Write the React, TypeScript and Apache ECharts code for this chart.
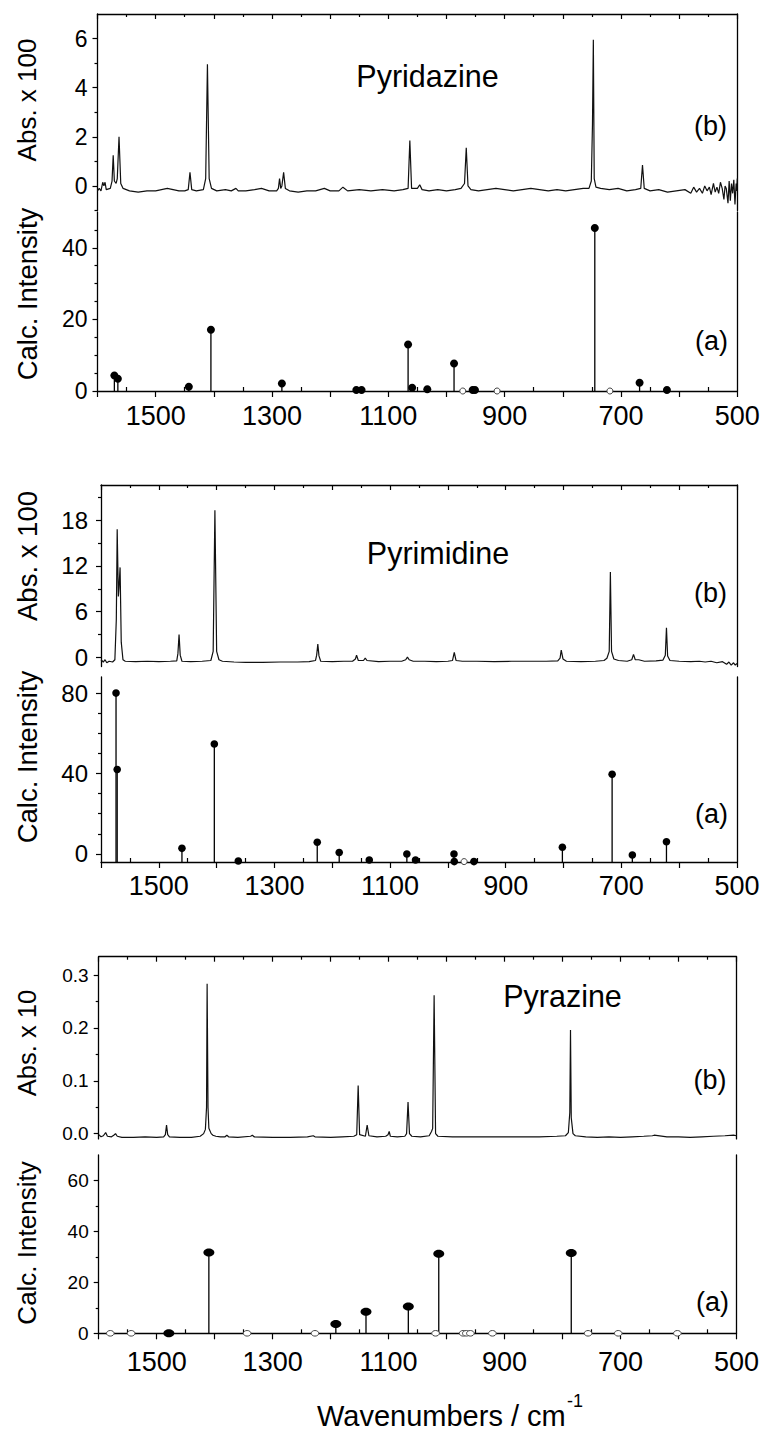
import React, { useEffect, useRef } from 'react';
import * as echarts from 'echarts';

// ---------------- DATA ----------------
const WN_MIN = 500;
const WN_MAX = 1600;
const X_LABELED = [1500, 1300, 1100, 900, 700, 500];

const MOLECULES = ['Pyridazine', 'Pyrimidine', 'Pyrazine'];
const ABS_TITLES = ['Abs. x 100', 'Abs. x 100', 'Abs. x 10'];
const CALC_TITLE = 'Calc. Intensity';

// Experimental spectra (b): [wavenumber, absorbance]
const pyridazineSpectrum: [number, number][] = [
  [1600, -0.2], [1597, -0.1], [1594, -0.2], [1591, 0.15], [1589, 0.0], [1587, 0.15], [1585, -0.15],
  [1578, -0.1], [1575, 0.2], [1573, 1.25], [1571, 0.2], [1568, 0.1], [1566, 0.3], [1563, 2.0], [1560, 0.1],
  [1556, -0.1], [1545, -0.2], [1530, -0.25], [1515, -0.2], [1500, -0.2], [1490, -0.15], [1480, -0.1],
  [1470, -0.15], [1460, -0.2], [1450, -0.2], [1444, -0.15], [1441, 0.55], [1438, -0.15], [1430, -0.2],
  [1418, -0.15], [1414, 0.3], [1411, 4.95], [1408, 0.3], [1404, -0.1], [1395, -0.2], [1380, -0.15],
  [1370, -0.2], [1362, -0.1], [1358, -0.2], [1345, -0.2], [1330, -0.15], [1318, -0.1], [1305, -0.2],
  [1292, -0.2], [1289, -0.1], [1287, 0.3], [1285, -0.1], [1283, 0.0], [1280, 0.55], [1277, -0.1],
  [1270, -0.2], [1255, -0.25], [1240, -0.2], [1225, -0.2], [1210, -0.1], [1200, -0.2], [1185, -0.2],
  [1178, -0.05], [1170, -0.2], [1150, -0.15], [1130, -0.2], [1110, -0.15], [1090, -0.2], [1075, -0.15],
  [1066, -0.1], [1063, 1.85], [1060, -0.1], [1050, -0.1], [1046, 0.05], [1042, -0.15], [1030, -0.2],
  [1015, -0.15], [1000, -0.2], [985, -0.15], [975, -0.1], [969, 0.1], [966, 1.55], [963, 0.0],
  [958, -0.15], [945, -0.2], [930, -0.15], [915, -0.1], [900, -0.15], [885, -0.2], [870, -0.15],
  [855, -0.1], [840, -0.15], [825, -0.2], [810, -0.15], [795, -0.2], [780, -0.15], [765, -0.1],
  [755, -0.1], [751, 0.2], [749, 2.5], [747.5, 5.95], [746, 0.3], [743, -0.05], [735, -0.1],
  [720, -0.15], [705, -0.1], [690, -0.2], [675, -0.15], [666, -0.1], [663, 0.85], [660, -0.1],
  [650, -0.2], [635, -0.15], [620, -0.25], [605, -0.2], [590, -0.15], [580, -0.3], [575, -0.05],
  [570, -0.25], [565, -0.1], [560, -0.3], [556, 0.0], [552, -0.2], [548, -0.05], [545, -0.35],
  [541, 0.1], [538, -0.25], [535, -0.05], [532, -0.3], [529, 0.15], [526, -0.1], [523, -0.55],
  [521, 0.0], [519, -0.1], [516, -0.7], [514, 0.2], [512, -0.6], [510, 0.1], [508, -0.3],
  [506, 0.25], [504, -0.75], [502, 0.1], [501, -0.2], [500, 0.3],
];

const pyrimidineSpectrum: [number, number][] = [
  [1600, -0.3], [1596, -0.6], [1593, -0.3], [1590, -0.7], [1586, -0.5], [1580, -0.6], [1576, -0.3],
  [1573.5, 5], [1572, 16.8], [1570, 8], [1569, 9], [1567, 11.8], [1565, 2], [1562, -0.3], [1558, -0.5],
  [1540, -0.55], [1520, -0.5], [1500, -0.55], [1480, -0.5], [1469, -0.45], [1467, 0.5], [1465, 3.0],
  [1463, 0.3], [1460, -0.5], [1445, -0.55], [1425, -0.5], [1410, -0.4], [1406, 0.8], [1403, 19.3],
  [1400, 0.8], [1396, -0.3], [1390, -0.5], [1370, -0.6], [1350, -0.65], [1320, -0.65], [1290, -0.6],
  [1260, -0.6], [1240, -0.55], [1229, -0.4], [1227, 0.3], [1225, 1.75], [1223, 0.2], [1220, -0.5],
  [1200, -0.55], [1180, -0.5], [1165, -0.5], [1160, -0.2], [1158, 0.3], [1155, -0.4], [1146, -0.4],
  [1143, -0.1], [1140, -0.4], [1120, -0.55], [1100, -0.5], [1080, -0.5], [1073, -0.3], [1070, 0.05],
  [1067, -0.3], [1060, -0.5], [1040, -0.5], [1020, -0.55], [1000, -0.5], [992, -0.4], [989, 0.65],
  [986, -0.4], [975, -0.5], [950, -0.5], [920, -0.55], [890, -0.5], [860, -0.5], [830, -0.5],
  [810, -0.45], [806, -0.1], [804, 0.95], [801, -0.2], [795, -0.5], [770, -0.55], [745, -0.5],
  [730, -0.4], [725, -0.1], [721, 0.8], [719, 11.2], [717, 0.8], [713, -0.2], [705, -0.4], [690, -0.5],
  [682, -0.3], [679, 0.4], [676, -0.3], [670, -0.3], [660, -0.5], [640, -0.45], [628, -0.35],
  [624, 0.3], [622, 3.9], [620, 0.2], [616, -0.4], [600, -0.5], [580, -0.55], [565, -0.5], [555, -0.6],
  [545, -0.5], [535, -0.7], [525, -0.55], [518, -0.9], [514, -0.6], [510, -1.0], [506, -0.7],
  [503, -1.0], [500, -0.8],
];

const pyrazineSpectrum: [number, number][] = [
  [1600, -0.002], [1596, -0.006], [1592, -0.004], [1588, 0.002], [1585, -0.005], [1578, -0.006],
  [1574, -0.003], [1571, 0.0], [1568, -0.005], [1560, -0.007], [1540, -0.007], [1520, -0.006],
  [1500, -0.007], [1488, -0.006], [1485, -0.002], [1483, 0.016], [1481, -0.002], [1478, -0.006],
  [1460, -0.007], [1440, -0.007], [1425, -0.005], [1419, 0.0], [1416, 0.008], [1414, 0.05],
  [1413, 0.284], [1411.5, 0.05], [1410, 0.01], [1406, 0.0], [1403, -0.003], [1398, -0.005],
  [1390, -0.006], [1382, -0.006], [1379, -0.003], [1376, -0.006], [1360, -0.007], [1338, -0.005],
  [1335, -0.003], [1332, -0.006], [1300, -0.007], [1270, -0.007], [1240, -0.006], [1230, -0.004],
  [1227, -0.006], [1200, -0.007], [1180, -0.006], [1160, -0.005], [1155, -0.002], [1152.5, 0.091],
  [1150, -0.002], [1140, -0.005], [1137, 0.016], [1134, -0.004], [1120, -0.006], [1105, -0.005],
  [1101, -0.002], [1099, 0.004], [1097, -0.005], [1085, -0.006], [1072, -0.005], [1069, 0.0],
  [1066.5, 0.06], [1064, 0.0], [1060, -0.005], [1045, -0.006], [1030, -0.004], [1026, 0.004],
  [1024, 0.01], [1021.5, 0.262], [1019, 0.0], [1015, -0.005], [990, -0.006], [960, -0.006],
  [930, -0.006], [900, -0.006], [870, -0.006], [840, -0.006], [810, -0.005], [795, -0.004],
  [790, 0.002], [787.5, 0.04], [786.3, 0.196], [785, 0.03], [782, 0.0], [778, -0.004], [760, -0.006],
  [740, -0.007], [720, -0.006], [700, -0.007], [680, -0.006], [660, -0.005], [645, -0.004],
  [642, -0.003], [620, -0.006], [600, -0.006], [580, -0.007], [560, -0.006], [540, -0.005],
  [520, -0.004], [505, -0.003], [500, -0.004],
];

// Calculated intensities (a): [wavenumber, intensity]
const pyridazineCalcFilled: [number, number][] = [
  [1571, 4.3], [1565, 3.4], [1443, 1.2], [1405, 17.1], [1283, 2.1], [1155, 0.3], [1146, 0.3],
  [1066, 13.0], [1059, 0.9], [1033, 0.5], [987, 7.7], [955, 0.3], [951, 0.3], [745, 45.5],
  [668, 2.3], [621, 0.3],
];
const pyridazineCalcOpen: [number, number][] = [[972, 0], [913, 0], [719, 0]];

const pyrimidineCalcFilled: [number, number][] = [
  [1574, 80], [1572, 42], [1460, 2.8], [1404, 54.7], [1362.5, -3.5], [1226, 5.8], [1188, 0.7],
  [1136, -3.0], [1071, 0], [1056, -3], [989.5, 0], [989, -3.8], [955, -3.8], [802, 3.3],
  [716, 39.6], [681, -0.5], [622, 6.1],
];
const pyrimidineCalcOpen: [number, number][] = [[972, -3.8]];

const pyrazineCalcFilled: [number, number][] = [
  [1479, 0], [1410, 31.7], [1191, 3.7], [1139, 8.5], [1066, 10.5], [1013.5, 31.2], [785, 31.5],
];
const pyrazineCalcOpen: [number, number][] = [
  [1580, 0], [1544, 0], [1344, 0], [1227, 0], [1019, 0], [971.5, 0], [966, 0], [959, 0],
  [921, 0], [756, 0], [704, 0], [602, 0],
];

// Y ranges and tick values per sub-plot (order: P1 abs, P1 calc, P2 abs, P2 calc, P3 abs, P3 calc)
const Y_RANGES: [number, number][] = [[-1, 7], [0, 50], [-1.2, 22.6], [-4, 88], [-0.01, 0.335], [0, 70]];
const Y_MAJOR: number[][] = [[0, 2, 4, 6], [0, 20, 40], [0, 6, 12, 18], [0, 40, 80], [0, 0.1, 0.2, 0.3], [0, 20, 40, 60]];
const Y_MINOR: number[][] = [
  [-1, 1, 3, 5], [5, 10, 15, 25, 30, 35, 45], [3, 9, 15, 21], [10, 20, 30, 50, 60, 70],
  [0.05, 0.15, 0.25], [10, 30, 50],
];

// ---------------- LAYOUT / STYLE ----------------
const FONT = '"Liberation Sans", Arial, sans-serif';
const GRIDS = [
  { left: 97.5, top: 14, width: 639.8, height: 196.5 },
  { left: 97.5, top: 212, width: 639.8, height: 179 },
  { left: 101, top: 485, width: 636, height: 181.6 },
  { left: 101, top: 677, width: 636, height: 185 },
  { left: 98.7, top: 956.7, width: 637.8, height: 182.2 },
  { left: 98.7, top: 1155, width: 637.8, height: 178.3 },
];
const Y_LABEL_SIZE = [23, 23, 24, 24, 19, 19];
const Y_LABEL_MARGIN = [10, 10, 13, 13, 10, 10];
const X_LABEL_MARGIN = [0, 11, 0, 10, 0, 15];

function buildOption() {
  const black = '#000';
  const lineStyle = { color: black, width: 1.3 };
  const xAxis: any[] = [];
  const yAxis: any[] = [];
  GRIDS.forEach((_, g) => {
    const isTop = g % 2 === 0;
    xAxis.push({
      type: 'value', gridIndex: g, position: isTop ? 'top' : 'bottom',
      min: WN_MIN, max: WN_MAX, inverse: true, interval: 100,
      axisLine: { show: true, onZero: false, lineStyle },
      axisTick: { show: true, inside: isTop, length: isTop ? 5 : 6, lineStyle: { color: black, width: 1.2 } },
      minorTick: { show: true, splitNumber: 2, length: isTop ? 3 : -4, lineStyle: { color: black, width: 1.2 } },
      axisLabel: {
        show: !isTop, margin: X_LABEL_MARGIN[g], fontSize: 27, color: black, fontFamily: FONT,
        formatter: (v: number) => (X_LABELED.indexOf(v) >= 0 ? String(v) : ''),
      },
      splitLine: { show: false }, minorSplitLine: { show: false },
    });
    const [mn, mx] = Y_RANGES[g];
    yAxis.push({
      type: 'value', gridIndex: g, position: 'left', min: mn, max: mx,
      axisLine: { show: true, onZero: false, lineStyle },
      axisTick: { show: true, length: 5, customValues: Y_MAJOR[g], lineStyle: { color: black, width: 1.2 } },
      axisLabel: {
        show: true, customValues: Y_MAJOR[g], margin: Y_LABEL_MARGIN[g], fontSize: Y_LABEL_SIZE[g],
        color: black, fontFamily: FONT,
        formatter: (v: number) => (g === 4 ? v.toFixed(1) : String(v)),
      },
      splitLine: { show: false },
    });
    yAxis.push({
      type: 'value', gridIndex: g, position: 'left', min: mn, max: mx,
      axisLine: { show: false },
      axisTick: { show: true, length: 3, customValues: Y_MINOR[g], lineStyle: { color: black, width: 1.2 } },
      axisLabel: { show: false }, splitLine: { show: false },
    });
    yAxis.push({
      type: 'value', gridIndex: g, position: 'right', min: mn, max: mx,
      axisLine: { show: true, onZero: false, lineStyle },
      axisTick: { show: false }, axisLabel: { show: false }, splitLine: { show: false },
    });
  });

  const spectrum = (g: number, data: [number, number][]) => ({
    type: 'line', xAxisIndex: g, yAxisIndex: 3 * g, data, showSymbol: false, symbol: 'none',
    lineStyle: { color: '#111', width: 1.2 }, z: 3,
  });
  const stems = (g: number, data: [number, number][], rx: number, ry: number) => ({
    type: 'custom', xAxisIndex: g, yAxisIndex: 3 * g, data, z: 5,
    renderItem: (_p: any, api: any) => {
      const x = api.value(0);
      const y = api.value(1);
      const p0 = api.coord([x, Y_RANGES[g][0]]);
      const p1 = api.coord([x, y]);
      return {
        type: 'group',
        children: [
          { type: 'line', shape: { x1: p0[0], y1: p0[1], x2: p1[0], y2: p1[1] }, style: { stroke: '#000', lineWidth: 1.3 } },
          { type: 'ellipse', shape: { cx: p1[0], cy: p1[1], rx, ry }, style: { fill: '#000' } },
        ],
      };
    },
  });
  const opens = (g: number, data: [number, number][], rx: number, ry: number) => ({
    type: 'custom', xAxisIndex: g, yAxisIndex: 3 * g, data, z: 6,
    renderItem: (_p: any, api: any) => {
      const p1 = api.coord([api.value(0), api.value(1)]);
      return { type: 'ellipse', shape: { cx: p1[0], cy: p1[1], rx, ry }, style: { fill: '#fff', stroke: '#444', lineWidth: 1 } };
    },
  });

  const series = [
    spectrum(0, pyridazineSpectrum),
    stems(1, pyridazineCalcFilled, 4, 4),
    opens(1, pyridazineCalcOpen, 3, 3),
    spectrum(2, pyrimidineSpectrum),
    stems(3, pyrimidineCalcFilled, 3.8, 3.8),
    opens(3, pyrimidineCalcOpen, 3, 3),
    spectrum(4, pyrazineSpectrum),
    stems(5, pyrazineCalcFilled, 5.5, 4),
    opens(5, pyrazineCalcOpen, 3.8, 2.8),
  ];

  const txt = (text: string, x: number, y: number, size: number, align = 'center', rotate = 0) => ({
    type: 'text', x, y, rotation: rotate, z: 10,
    style: {
      text, fontSize: size, fontFamily: FONT, fill: '#000',
      align, verticalAlign: 'middle', textAlign: align, textVerticalAlign: 'middle',
    },
  });

  const graphic = [
    txt(MOLECULES[0], 427.5, 76, 30.5),
    txt(MOLECULES[1], 438, 552.5, 30.5),
    txt(MOLECULES[2], 562.5, 996, 30.5),
    txt('(b)', 727, 126, 27, 'right'),
    txt('(a)', 728, 341, 27, 'right'),
    txt('(b)', 727, 593, 27, 'right'),
    txt('(a)', 728, 814, 27, 'right'),
    txt('(b)', 726.5, 1080, 27, 'right'),
    txt('(a)', 729, 1302, 27, 'right'),
    txt(ABS_TITLES[0], 27, 100, 26, 'center', Math.PI / 2),
    txt(CALC_TITLE, 27, 294, 27.5, 'center', Math.PI / 2),
    txt(ABS_TITLES[1], 27, 556, 27.5, 'center', Math.PI / 2),
    txt(CALC_TITLE, 27, 757, 27.5, 'center', Math.PI / 2),
    txt(ABS_TITLES[2], 27, 1043, 25.5, 'center', Math.PI / 2),
    txt(CALC_TITLE, 27, 1243, 26, 'center', Math.PI / 2),
    txt('Wavenumbers / cm', 317, 1415.5, 29, 'left'),
    txt('-1', 567, 1401, 18, 'left'),
  ];

  return {
    animation: false,
    backgroundColor: '#fff',
    textStyle: { fontFamily: FONT },
    grid: GRIDS.map((g) => ({ ...g, containLabel: false })),
    xAxis,
    yAxis,
    series,
    graphic,
  };
}

export default function App() {
  const ref = useRef<HTMLDivElement | null>(null);
  useEffect(() => {
    if (!ref.current) return;
    const chart = echarts.init(ref.current, undefined, { renderer: 'svg' });
    chart.setOption(buildOption() as any);
    return () => chart.dispose();
  }, []);
  return (
    <div
      ref={ref}
      style={{ position: 'absolute', left: 0, top: 0, width: 766, height: 1432, background: '#fff' }}
    />
  );
}
